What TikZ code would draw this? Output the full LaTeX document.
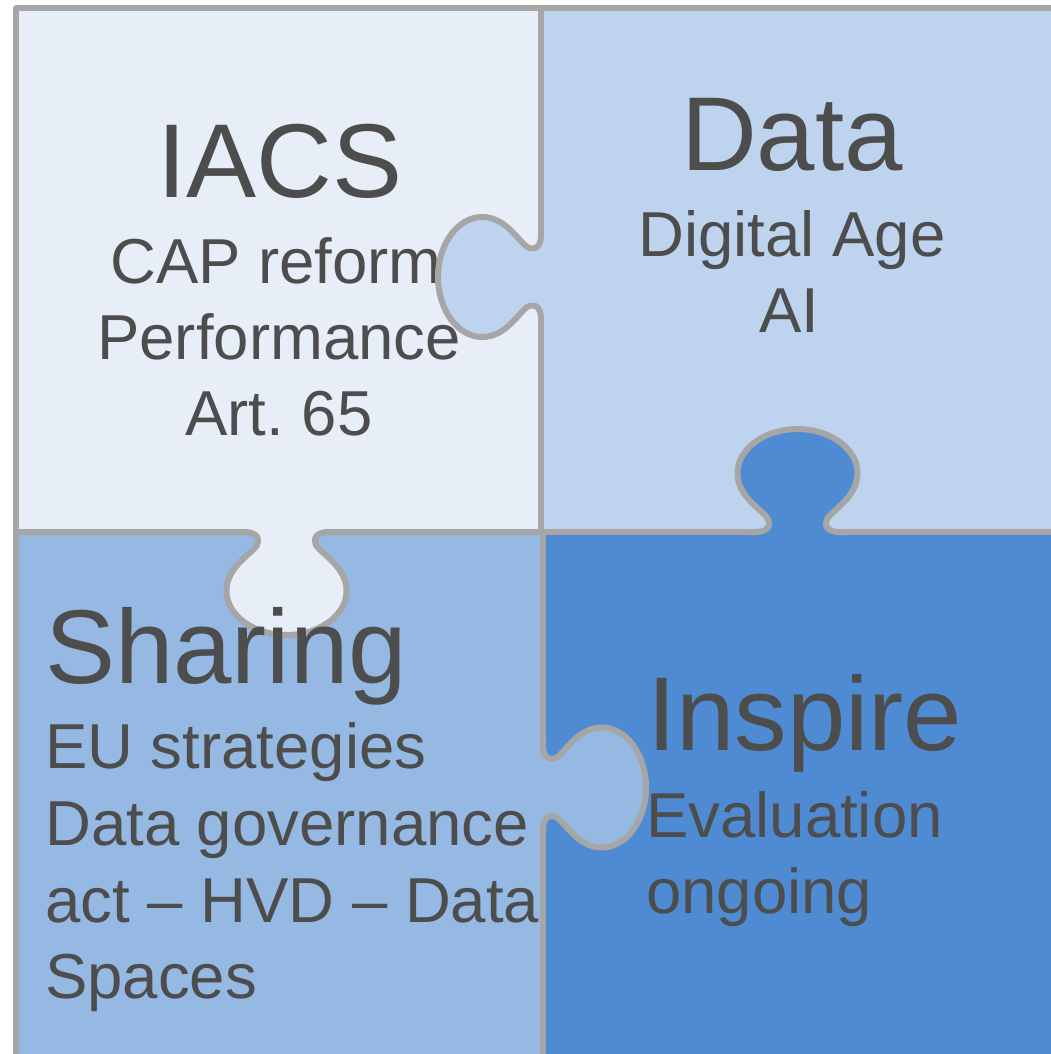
\documentclass[tikz,border=0pt]{standalone}
\usepackage{fontspec}
\setmainfont{Liberation Sans}
\definecolor{iacsfill}{HTML}{E7EEF8}
\definecolor{datafill}{HTML}{BED4EE}
\definecolor{sharefill}{HTML}{96B9E3}
\definecolor{inspfill}{HTML}{4F8BD2}
\definecolor{rimgray}{HTML}{A6A6A6}
\definecolor{inkgray}{HTML}{4D4D4D}

\tikzset{
  rim/.style={draw=rimgray, line width=6pt, line join=round},
  title/.style={anchor=base, inner sep=0pt, text=inkgray, font=\fontsize{105}{105}\selectfont},
  subline/.style={anchor=base, inner sep=0pt, text=inkgray, font=\fontsize{63.5}{76}\selectfont},
  pics/knob/.style={code={
    \fill[#1] (-42,-6) -- (-42,0) .. controls (-30,0) and (-26,6) .. (-30,14)
      .. controls (-38,24) and (-60,36) .. (-60,59) .. controls (-60,83) and (-33,103) .. (0,103)
      .. controls (33,103) and (60,83) .. (60,59) .. controls (60,36) and (38,24) .. (30,14)
      .. controls (26,6) and (30,0) .. (42,0) -- (42,-6) -- cycle;
    \draw[rim, line cap=round] (-50,0) -- (-42,0) .. controls (-30,0) and (-26,6) .. (-30,14)
      .. controls (-38,24) and (-60,36) .. (-60,59) .. controls (-60,83) and (-33,103) .. (0,103)
      .. controls (33,103) and (60,83) .. (60,59) .. controls (60,36) and (38,24) .. (30,14)
      .. controls (26,6) and (30,0) .. (42,0) -- (50,0);
  }}
}

\begin{document}
\begin{tikzpicture}[x=1pt, y=-1pt]
	\useasboundingbox (0,0) rectangle (1051,1054);
	\clip (0,0) rectangle (1051,1054);

	% the four pieces
	\draw[rim, fill=iacsfill] (16,8) rectangle (541,532);
	\draw[rim, fill=datafill] (541,8) rectangle (1070,532);
	\draw[rim, fill=sharefill] (16,532) rectangle (543,1070);
	\draw[rim, fill=inspfill] (543,532) rectangle (1070,1070);

	% IACS
	\node[title] (iacs) at (280,197) {IACS};
	\node[subline] (cap) at (276,283) {CAP reform};
	\node[subline] (perf) at (279,359) {Performance};
	\node[subline] (art) at (279,435) {Art.\ 65};

	% knobs under the texts of the lower pieces
	\pic[rotate=-90] (knobdata) at (541,277) {knob=datafill};
	\pic (knobiacs) at (286.5,532) {knob=iacsfill};

	% Data
	\node[title] (data) at (792,170) {Data};
	\node[subline] (digital) at (792,256) {Digital Age};
	\node[subline] (ai) at (789,332) {AI};

	% Sharing
	\node[title, anchor=base west] (sharing) at (45,683) {Sharing};
	\node[subline, anchor=base west] (eu) at (45,768) {EU strategies};
	\node[subline, anchor=base west] (gov) at (45,845) {Data governance};
	\node[subline, anchor=base west] (hvd) at (45,922) {act -- HVD -- Data};
	\node[subline, anchor=base west] (spaces) at (45,998) {Spaces};

	% Inspire
	\node[title, anchor=base west] (inspire) at (647,750) {Inspire};
	\node[subline, anchor=base west] (eval) at (646,837) {Evaluation};
	\node[subline, anchor=base west] (ongoing) at (646,913) {ongoing};

	\pic[rotate=180] (knobinsp) at (797.5,532) {knob=inspfill};
	\pic[rotate=90] (knobshare) at (543,787.5) {knob=sharefill};
\end{tikzpicture}
\end{document}
